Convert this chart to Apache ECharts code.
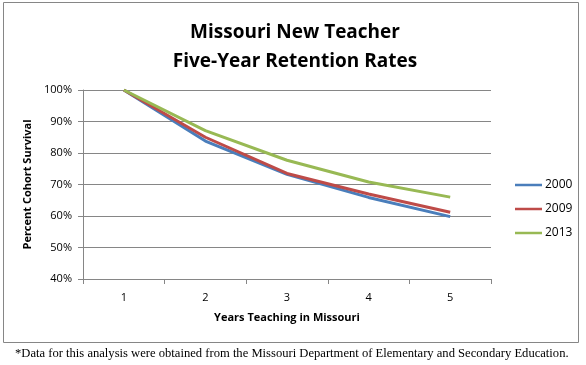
<!DOCTYPE html>
<html><head><meta charset="utf-8">
<script src="https://cdn.jsdelivr.net/npm/echarts@6/dist/echarts.min.js"></script>
<style>html,body{margin:0;padding:0;background:#fff}#c{width:586px;height:365px}</style>
</head><body><div id="c"></div>
<script>
const categories = ['1','2','3','4','5'];
const s2000 = [100, 83.8, 73.2, 65.9, 59.8];
const s2009 = [100, 85.0, 73.5, 67.0, 61.2];
const s2013 = [100, 87.1, 77.7, 70.8, 66.0];
const seriesNames = ['2000','2009','2013'];
const colors = ['#4a7ebb','#be4b48','#98b954'];

const chart = echarts.init(document.getElementById('c'));
const font = 'Open Sans';
const mk = (name, data, color) => ({
  name, type:'line', data, symbol:'none', smooth:false,
  lineStyle:{color, width:3}, itemStyle:{color}
});
chart.setOption({
  animation:false,
  title:{
    text:'Missouri New Teacher\nFive-Year Retention Rates',
    left:290, textAlign:'center', top:13,
    textStyle:{fontFamily:font, fontSize:19, fontWeight:'bold', color:'#000', lineHeight:29}
  },
  legend:{
    orient:'vertical', left:510, top:173, itemGap:10,
    itemWidth:27, itemHeight:14,
    data: seriesNames.map((n,i)=>({name:n, icon:'path://M0,6 L27,6 L27,8.5 L0,8.5 Z'})),
    textStyle:{fontFamily:font, fontSize:12, color:'#000', padding:[0,0,0,-2], lineHeight:14, height:14}
  },
  grid:{left:83, right:95, top:90, bottom:86},
  xAxis:{
    type:'category', data:categories, boundaryGap:true,
    name:'Years Teaching in Missouri', nameLocation:'middle', nameGap:33,
    nameTextStyle:{fontFamily:font, fontSize:11, fontWeight:'bold', color:'#000'},
    axisLine:{lineStyle:{color:'#868686'}},
    axisTick:{show:true, length:5, lineStyle:{color:'#868686'}},
    axisLabel:{fontFamily:font, fontSize:11, color:'#000', margin:13}
  },
  yAxis:{
    type:'value', min:40, max:100, interval:10,
    name:'Percent Cohort Survival', nameLocation:'middle', nameGap:46,
    nameTextStyle:{fontFamily:font, fontSize:11, fontWeight:'bold', color:'#000'},
    axisLine:{show:true, lineStyle:{color:'#868686'}},
    axisTick:{show:true, length:5, inside:false, lineStyle:{color:'#868686'}},
    axisLabel:{fontFamily:font, fontSize:11, color:'#000', formatter:'{value}%', margin:11},
    splitLine:{lineStyle:{color:'#868686'}}
  },
  series:[mk(seriesNames[0], s2000, colors[0]), mk(seriesNames[1], s2009, colors[1]), mk(seriesNames[2], s2013, colors[2])],
  graphic:[
    {type:'rect', shape:{x:3.5, y:2.5, width:575, height:340}, style:{fill:null, stroke:'#868686', lineWidth:1}, z:-1},
    {type:'text', left:15, top:347, style:{text:'*Data for this analysis were obtained from the Missouri Department of Elementary and Secondary Education.', font:'12.6px "Liberation Serif"', fill:'#000'}}
  ]
});
</script></body></html>
